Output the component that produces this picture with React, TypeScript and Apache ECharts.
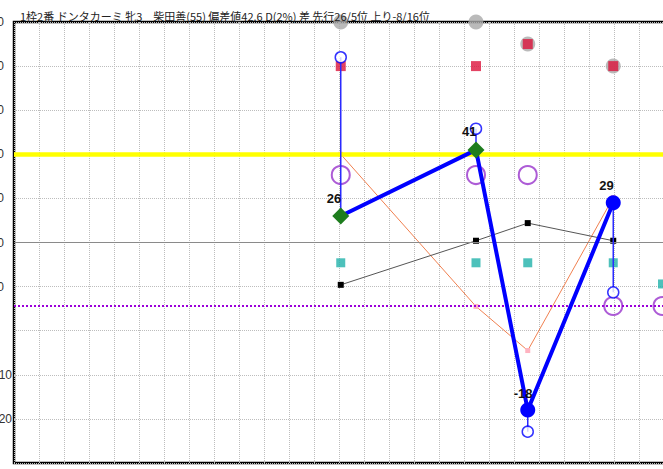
import React, { useEffect, useRef } from "react";
import * as echarts from "echarts";

// ---- data (x in grid units of the time axis, y = 偏差値 scale) ----
const titleText = "1枠2番 ドンタカーミ 牝3　柴田善(55) 偏差値42.6 D(2%) 差 先行26/5位 上り-8/16位";
const racePos = [13.07, 18.48, 20.55, 23.97];
const nextPos = 25.94;
const mainVals = [26, 41, -18, 29];
const mainMarks = ["diamond", "diamond", "circle", "circle"];
const hollowVals = [62, 45.8, -22.9, 8.7];
const redVals = [60, 60, 65, 60];
const grayVals = [70, 70, 65, 60];
const purpleVals = [35.3, 35.3, 35.3, 5.6, 5.6];
const tealVals = [15.4, 15.4, 15.4, 15.4, 10.6];
const blackVals = [10.4, 20.4, 24.4, 20.4];
const pinkVals = [40, 5.5, -4.5, 30.2];
const yellowLevel = 40;
const solidLevel = 20;
const dottedLevel = 5.6;
const yMin = -30;
const yMax = 70;
const xMin = 0;
const xMax = 27;

export default function App() {
  const ref = useRef<HTMLDivElement>(null);
  useEffect(() => {
    if (!ref.current) return;
    const chart = echarts.init(ref.current, null, { renderer: "svg" });
    const allPos = [...racePos, nextPos];
    const stems = racePos.map((x, i) => ({
      type: "line",
      data: [
        [x, mainVals[i]],
        [x, hollowVals[i]],
      ],
      symbol: "none",
      lineStyle: { color: "#2a2aff", width: 1.5 },
      z: 6,
      silent: true,
    }));
    chart.setOption({
      animation: false,
      title: {
        text: titleText,
        left: 15,
        top: 5,
        textStyle: {
          fontFamily: "'Noto Sans CJK JP', sans-serif",
          fontSize: 11,
          fontWeight: "normal",
          color: "#222",
        },
      },
      grid: {
        left: 14,
        top: 22,
        right: -26,
        bottom: 6,
        containLabel: false,
        outerBoundsMode: "none",
        show: true,
        borderColor: "#000",
        borderWidth: 2.5,
        backgroundColor: "#fff",
      },
      xAxis: {
        type: "value",
        min: xMin,
        max: xMax,
        interval: 1,
        axisLine: { show: false },
        axisTick: { show: false },
        axisLabel: { show: false },
        splitLine: { show: true, lineStyle: { type: "dotted", color: "#bdbdbd", width: 1 } },
      },
      yAxis: {
        type: "value",
        min: yMin,
        max: yMax,
        interval: 10,
        axisLine: { show: false },
        axisTick: { show: false },
        axisLabel: {
          margin: 2,
          fontSize: 12,
          color: "#333",
          fontFamily: "'Liberation Sans', sans-serif",
          formatter: (v: number) => {
            if (v === 0 || v === yMin) return "";
            return v > 0 ? `{p|${v}}` : `{n|${v}}`;
          },
          rich: {
            p: { padding: [0, 8, 0, 0], fontSize: 12, color: "#333" },
            n: { fontSize: 12, color: "#333" },
          },
        },
        splitLine: { show: true, lineStyle: { type: "dotted", color: "#bdbdbd", width: 1 } },
      },
      series: [
        {
          type: "line",
          data: [],
          silent: true,
          z: 1,
          markLine: {
            silent: true,
            symbol: "none",
            label: { show: false },
            data: [
              { yAxis: solidLevel, lineStyle: { color: "#8a8a8a", width: 1, type: "solid" } },
              { yAxis: yellowLevel, lineStyle: { color: "#ffff00", width: 4.5, type: "solid" } },
              { yAxis: dottedLevel, lineStyle: { color: "#9b00d9", width: 2, type: [2, 2] } },
            ],
          },
        },
        {
          type: "line",
          data: racePos.map((x, i) => [x, pinkVals[i]]),
          symbol: "rect",
          symbolSize: 5,
          itemStyle: { color: "#ffb3c0" },
          lineStyle: { color: "#f08050", width: 1 },
          z: 3,
        },
        {
          type: "line",
          data: racePos.map((x, i) => [x, blackVals[i]]),
          symbol: "rect",
          symbolSize: 6,
          itemStyle: { color: "#000" },
          lineStyle: { color: "#555", width: 1 },
          z: 3,
        },
        {
          type: "scatter",
          data: allPos.map((x, i) => [x, tealVals[i]]),
          symbol: "rect",
          symbolSize: 9,
          itemStyle: { color: "#20b2aa" },
          z: 4,
        },
        {
          type: "scatter",
          data: allPos.map((x, i) => [x, purpleVals[i]]),
          symbol: "circle",
          symbolSize: 18,
          itemStyle: { color: "rgba(255,255,255,0)", borderColor: "#9933cc", borderWidth: 2 },
          z: 4,
        },
        {
          type: "scatter",
          data: racePos.map((x, i) => [x, grayVals[i]]),
          symbol: "circle",
          symbolSize: 15,
          clip: false,
          itemStyle: { color: "#a9a9a9" },
          z: 5,
        },
        {
          type: "scatter",
          data: racePos.map((x, i) => [x, redVals[i]]),
          symbol: "rect",
          symbolSize: 10,
          itemStyle: { color: "#dc143c" },
          z: 5,
        },
        ...stems,
        {
          type: "scatter",
          data: racePos.map((x, i) => [x, hollowVals[i]]),
          symbol: "circle",
          symbolSize: 11,
          itemStyle: { color: "#fff", borderColor: "#0000ff", borderWidth: 1.5 },
          z: 7,
        },
        {
          type: "line",
          data: racePos.map((x, i) => ({
            value: [x, mainVals[i]],
            symbol: mainMarks[i],
            symbolSize: mainMarks[i] === "diamond" ? 17 : 15,
            itemStyle: { color: mainMarks[i] === "diamond" ? "#1e7d1e" : "#0000ff" },
          })),
          lineStyle: { color: "#0000ff", width: 4 },
          z: 8,
          label: {
            show: true,
            position: "top",
            align: "left",
            offset: [-14, 0],
            distance: 3,
            fontSize: 13,
            fontWeight: "bold",
            fontFamily: "'Liberation Sans', sans-serif",
            color: "#111",
            formatter: (p: any) => String(p.value[1]),
          },
        },
      ],
    });
    return () => chart.dispose();
  }, []);
  return (
    <div
      ref={ref}
      style={{ position: "absolute", left: 0, top: 0, width: 663, height: 469 }}
    />
  );
}
